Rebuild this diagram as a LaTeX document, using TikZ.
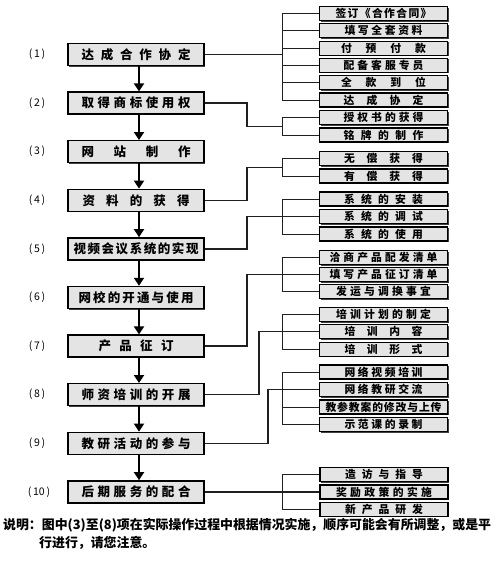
\documentclass[tikz,border=0pt]{standalone}
\usepackage{fontspec}
\setmainfont{Noto Sans CJK SC}
\usetikzlibrary{arrows.meta,shadows,calc}
\pgfdeclarelayer{background}
\pgfsetlayers{background,main}
\definecolor{boxfill}{HTML}{E4E4E4}
\definecolor{linecol}{HTML}{202020}
\newcommand\spr[2]{\makebox[#1]{\sprA#2\relax}}
\def\sprA#1#2\relax{#1\ifx\relax#2\relax\else\hfill\sprA#2\relax\fi}
\tikzset{
  mainbox/.style={draw=black, line width=1.4pt, fill=boxfill, minimum width=136pt, minimum height=22pt, inner sep=0pt,
    font=\bfseries\fontsize{12.5}{12.5}\selectfont,
    drop shadow={shadow xshift=1pt, shadow yshift=-1pt, fill=black!75, opacity=1}},
  subbox/.style={draw=black, line width=1.2pt, fill=boxfill, minimum width=128pt, minimum height=14pt, inner sep=0pt,
    font=\bfseries\fontsize{10.8}{10.8}\selectfont,
    drop shadow={shadow xshift=1pt, shadow yshift=-1pt, fill=black!75, opacity=1}},
  lbl/.style={font=\fontsize{10.5}{10.5}\selectfont, inner sep=0pt},
  foot/.style={font=\bfseries\fontsize{12.9}{12.9}\selectfont, inner sep=0pt, anchor=west},
  conn/.style={draw=linecol, line width=1.3pt},
  brk/.style={draw=linecol, line width=1pt},
  arr/.style={draw=black, line width=1.8pt, -{Triangle[width=10pt,length=8pt]}},
}
\begin{document}
\begin{tikzpicture}[x=1pt,y=-1pt]
\useasboundingbox (0,0) rectangle (500,565);
% main boxes
\node[mainbox] (m1) at (136,54.5) {\spr{109pt}{达成合作协定}};
\node[mainbox] (m2) at (136,103.1) {\spr{109pt}{取得商标使用权}};
\node[mainbox] (m3) at (136,151.7) {\spr{109pt}{网站制作}};
\node[mainbox] (m4) at (136,200.3) {\spr{107pt}{资料的获得}};
\node[mainbox] (m5) at (136,248.9) {\spr{125pt}{视频会议系统的实现}};
\node[mainbox] (m6) at (136,297.5) {\spr{115pt}{网校的开通与使用}};
\node[mainbox] (m7) at (136,346.1) {\spr{75pt}{产品征订}};
\node[mainbox] (m8) at (136,394.7) {\spr{109pt}{师资培训的开展}};
\node[mainbox] (m9) at (136,443.3) {\spr{109pt}{教研活动的参与}};
\node[mainbox] (m10) at (136,491.9) {\spr{109pt}{后期服务的配合}};
% labels
\node[lbl] (l1) at (37,54.5) {(\,1\,)};
\node[lbl] (l2) at (37,103.1) {(\,2\,)};
\node[lbl] (l3) at (37,151.7) {(\,3\,)};
\node[lbl] (l4) at (37,200.3) {(\,4\,)};
\node[lbl] (l5) at (37,248.9) {(\,5\,)};
\node[lbl] (l6) at (37,297.5) {(\,6\,)};
\node[lbl] (l7) at (37,346.1) {(\,7\,)};
\node[lbl] (l8) at (37,394.7) {(\,8\,)};
\node[lbl] (l9) at (37,443.3) {(\,9\,)};
\node[lbl] (l10) at (39,491.9) {(\,10\,)};
% arrows
\foreach \a/\b in {m1/m2,m2/m3,m3/m4,m4/m5,m5/m6,m6/m7,m7/m8,m8/m9,m9/m10}
  \draw[arr] ([xshift=3pt]\a.south) -- ([xshift=3pt]\b.north);
% sub boxes
\node[subbox] (s11) at (383.5,13.5) {\spr{96pt}{签订《合作合同》}};
\node[subbox] (s12) at (383.5,30.8) {\spr{78pt}{填写全套资料}};
\node[subbox] (s13) at (383.5,48.1) {\spr{85pt}{付预付款}};
\node[subbox] (s14) at (383.5,65.4) {\spr{80pt}{配备客服专员}};
\node[subbox] (s15) at (383.5,82.7) {\spr{85pt}{全款到位}};
\node[subbox] (s16) at (383.5,100) {\spr{80pt}{达成协定}};
\node[subbox] (s21) at (383.5,117.5) {\spr{80pt}{授权书的获得}};
\node[subbox] (s22) at (383.5,135) {\spr{80pt}{铭牌的制作}};
\node[subbox] (s31) at (383.5,158.5) {\spr{79pt}{无偿获得}};
\node[subbox] (s32) at (383.5,176) {\spr{79pt}{有偿获得}};
\node[subbox] (s41) at (383.5,199) {\spr{79pt}{系统的安装}};
\node[subbox] (s42) at (383.5,216.5) {\spr{79pt}{系统的调试}};
\node[subbox] (s43) at (383.5,234) {\spr{79pt}{系统的使用}};
\node[subbox] (s51) at (383.5,257.5) {\spr{108pt}{洽商产品配发清单}};
\node[subbox] (s52) at (383.5,274.5) {\spr{108pt}{填写产品征订清单}};
\node[subbox] (s53) at (383.5,291.5) {\spr{95pt}{发运与调换事宜}};
\node[subbox] (s61) at (383.5,314.5) {\spr{95pt}{培训计划的制定}};
\node[subbox] (s62) at (383.5,331.8) {\spr{78pt}{培训内容}};
\node[subbox] (s63) at (383.5,349.3) {\spr{78pt}{培训形式}};
\node[subbox] (s71) at (383.5,372) {\spr{78pt}{网络视频培训}};
\node[subbox] (s72) at (383.5,389.5) {\spr{78pt}{网络教研交流}};
\node[subbox] (s73) at (383.5,407) {\spr{116pt}{教参教案的修改与上传}};
\node[subbox] (s74) at (383.5,424.5) {\spr{78pt}{示范课的录制}};
\node[subbox] (s81) at (384,474.5) {\spr{78pt}{造访与指导}};
\node[subbox] (s82) at (384,491.9) {\spr{96pt}{奖励政策的实施}};
\node[subbox] (s83) at (384,509.3) {\spr{78pt}{新产品研发}};
% helper coordinates
\coordinate (bx) at (282,0);
\coordinate (va) at (247,0);
\coordinate (vb) at (259,0);
\coordinate (vc) at (268,0);
\begin{pgfonlayer}{background}
% brackets
\foreach \t/\u in {s11/s16,s21/s22,s31/s32,s41/s43,s51/s53,s61/s63,s71/s74,s81/s83}
  \draw[brk] (\t.west -| bx) -- (\u.west -| bx);
\foreach \s in {s11,s12,s13,s14,s15,s16,s21,s22,s31,s32,s41,s42,s43,s51,s52,s53,s61,s62,s63,s71,s72,s73,s74,s81,s82,s83}
  \draw[brk] (\s.west -| bx) -- (\s.west);
% main connectors
\draw[conn] (m1.east) -- (m1.east -| bx);
\coordinate (j2) at ($(s21.west -| bx)!0.5!(s22.west -| bx)$);
\draw[conn] (m2.east) -- (m2.east -| va) |- (j2);
\coordinate (j3) at ($(s31.west -| bx)!0.5!(s32.west -| bx)$);
\draw[conn] (m4.east) -- (m4.east -| va) |- (j3);
\draw[conn] (m5.east) -- (m5.east -| va) |- (s42.west -| bx);
\draw[conn] (m7.east) -- (m7.east -| va) |- (s52.west);
\draw[conn] (m8.east) -- (m8.east -| vb) |- (s62.west);
\draw[conn] (m9.east) -- (m9.east -| vc) |- (s72.west);
\draw[conn] (m10.east) -- (m10.east -| s82.west);
\end{pgfonlayer}
% footer
\node[foot] (f1) at (3,525) {说明：图中(3)至(8)项在实际操作过程中根据情况实施，顺序可能会有所调整，或是平};
\node[foot] (f2) at (39,543) {行进行，请您注意。};
\end{tikzpicture}
\end{document}
